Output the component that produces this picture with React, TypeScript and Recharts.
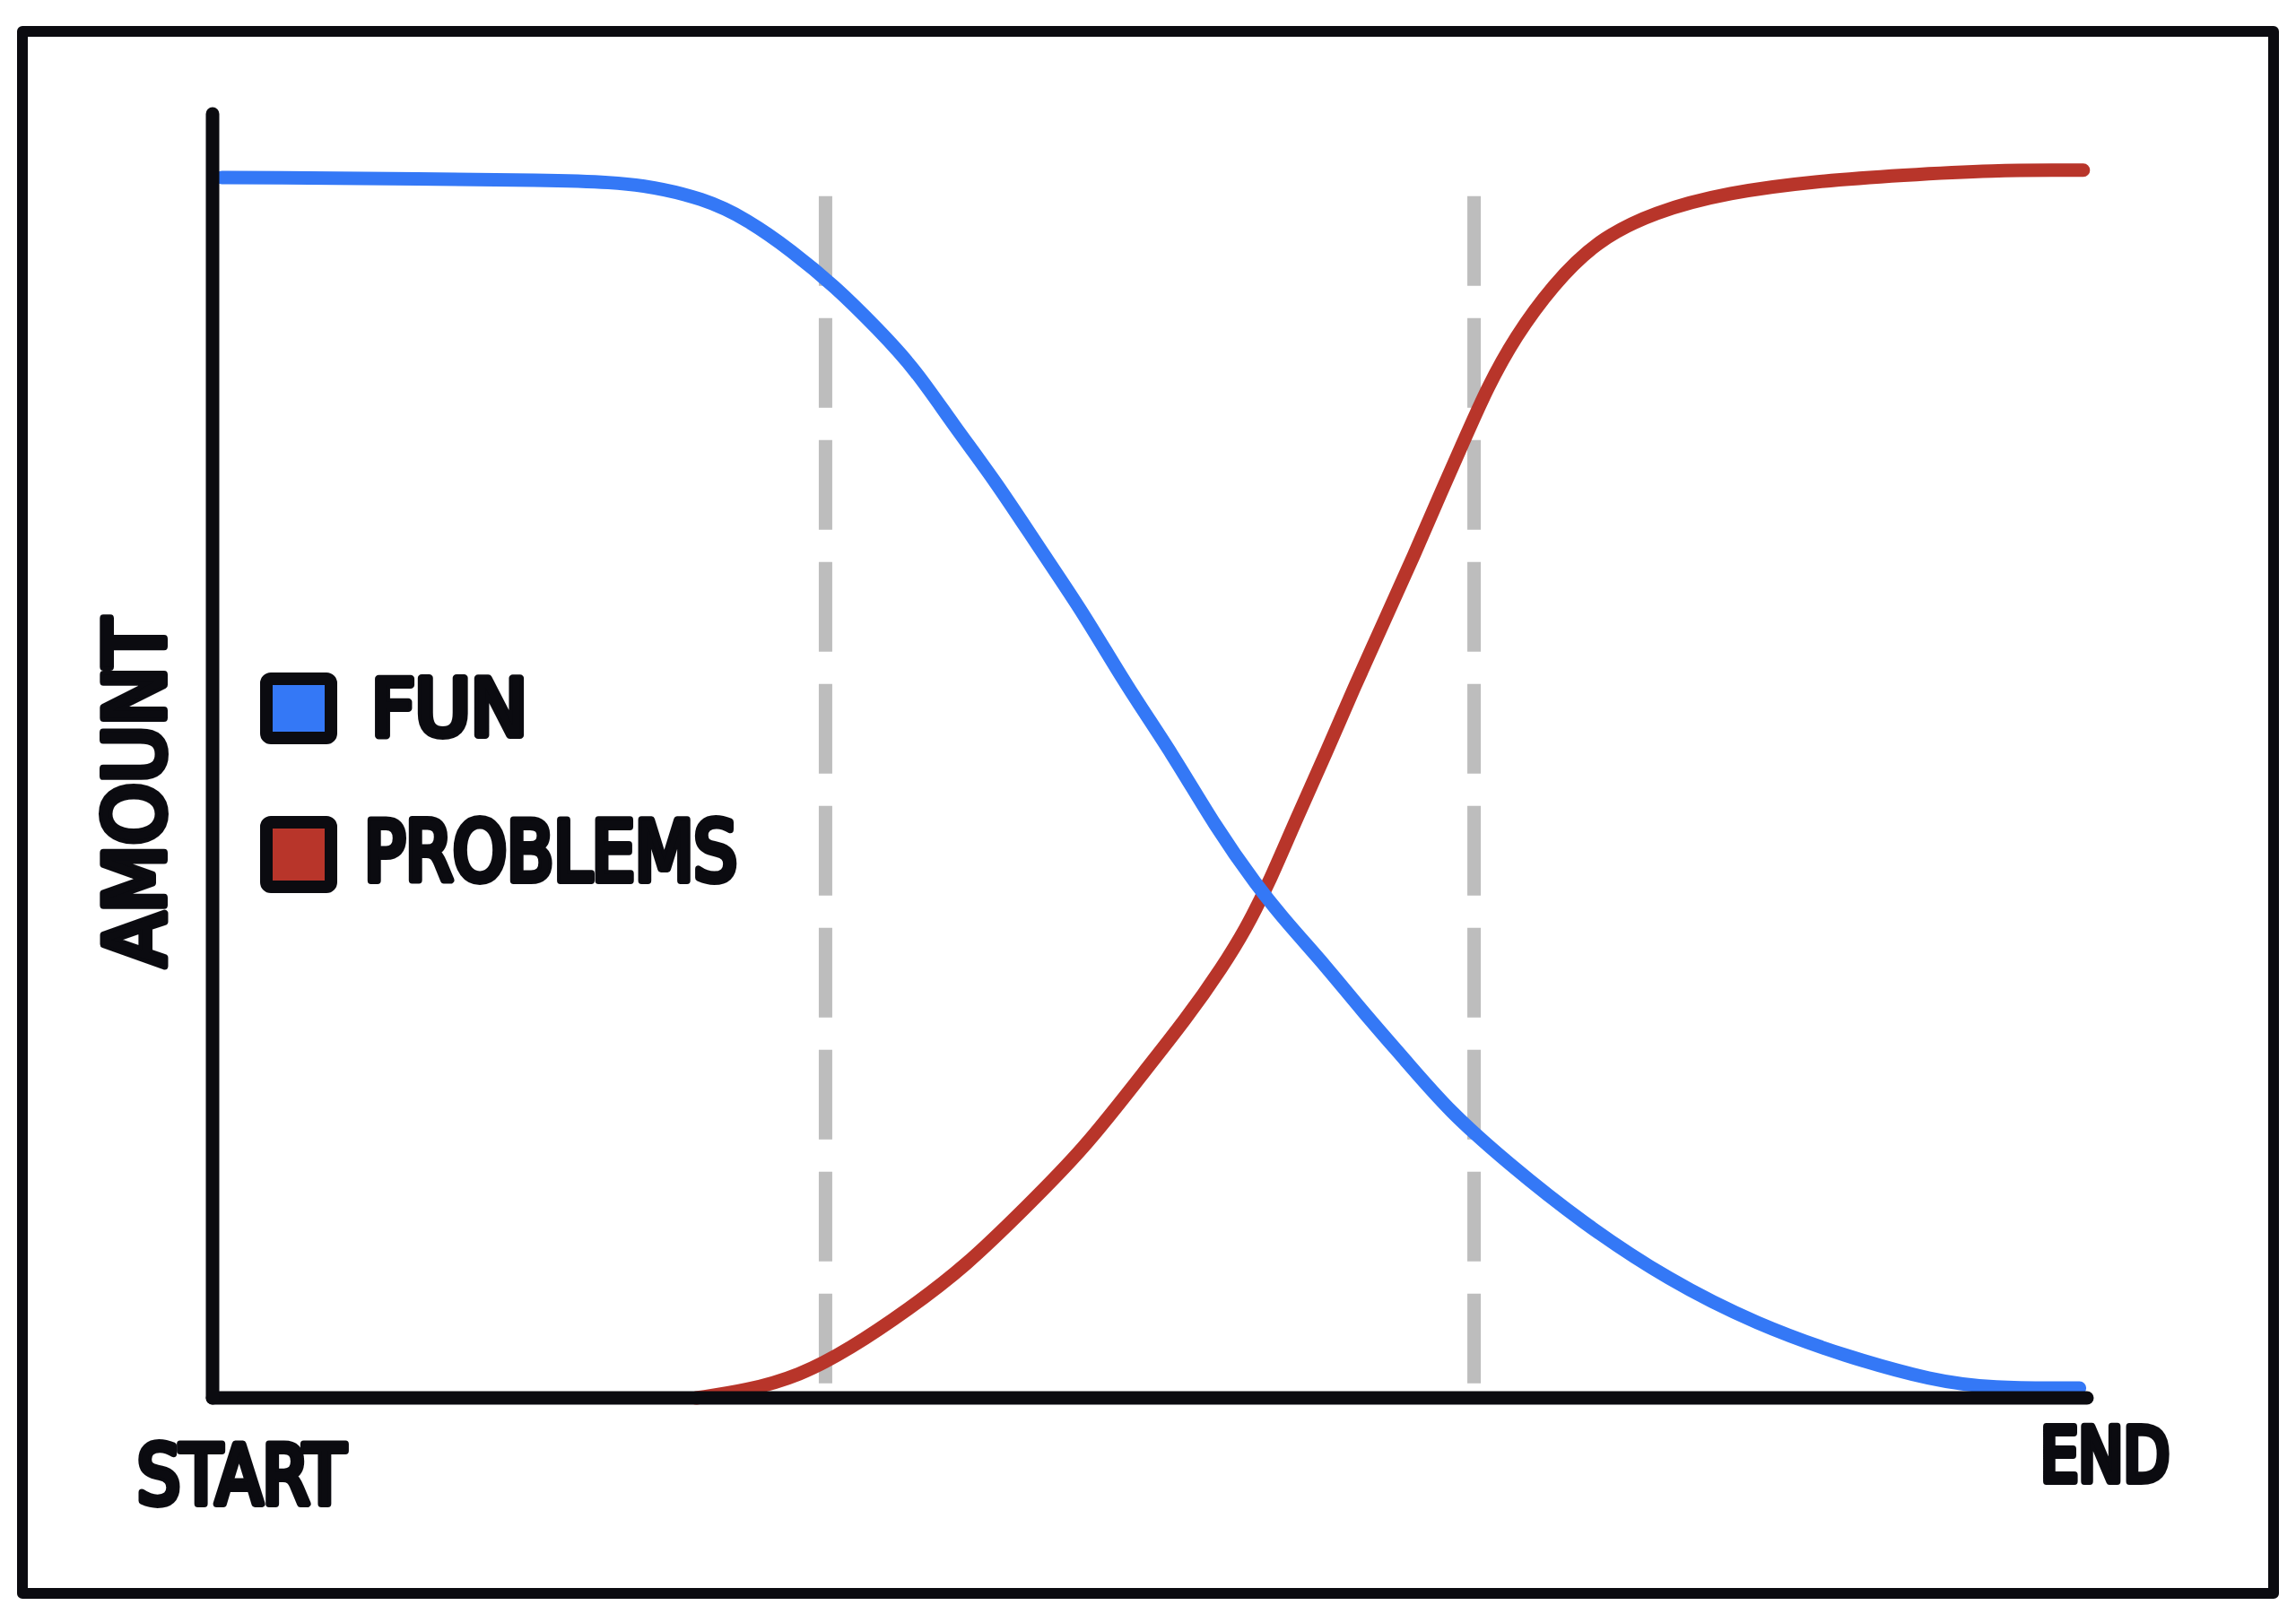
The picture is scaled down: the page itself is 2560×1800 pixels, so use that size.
import { LineChart, Line, XAxis, YAxis, ReferenceLine, Legend, Customized } from 'recharts';

// x: 0 = start, 100 = end; y: 0..105
const funX = [0.5, 19.9, 23.0, 26.2, 28.5, 30.9, 33.2, 35.5, 37.5, 39.5, 41.8, 44.1, 46.5, 48.8, 51.2, 53.5, 55.7, 57.4, 59.4, 61.3, 63.7, 66.0, 69.1, 73.0, 77.7, 82.4, 87.1, 91.8, 94.9, 99.6];
const funY = [99.8, 99.6, 99.2, 98.1, 96.4, 93.8, 90.9, 87.4, 84.1, 79.6, 74.9, 69.5, 64.1, 58.1, 52.7, 46.7, 41.9, 38.7, 35.3, 31.7, 27.5, 23.4, 19.2, 14.4, 9.6, 6.0, 3.4, 1.4, 0.8, 0.8];

const problemsX = [25.8, 28.5, 31.3, 34.0, 37.1, 40.2, 43.4, 46.5, 49.2, 52.0, 53.9, 55.1, 56.3, 57.8, 59.4, 60.9, 62.5, 64.1, 65.6, 66.8, 68.0, 69.5, 71.5, 73.8, 76.9, 80.9, 85.5, 90.2, 94.9, 99.8];
const problemsY = [0, 0.6, 1.8, 4.0, 7.2, 10.8, 15.6, 20.4, 25.7, 31.1, 35.3, 38.3, 41.9, 47.3, 52.7, 58.1, 63.5, 68.9, 74.3, 78.4, 82.6, 86.8, 91.0, 94.6, 97.0, 98.6, 99.5, 100.0, 100.4, 100.4];

const phaseMarks = [32.7, 67.3];
const tickLabels: Record<number, string> = { 0: 'START', 100: 'END' };

const funData = funX.map((x, i) => ({ x, fun: funY[i] }));
const problemsData = problemsX.map((x, i) => ({ x, problems: problemsY[i] }));

const INK = '#0b0b10';
const BLUE = '#3478f6';
const RED = '#b8352a';
const GREY = '#bdbdbd';
const FONT = '"DejaVu Sans Condensed", "DejaVu Sans", sans-serif';

// regular weight + fat round stroke gives a marker-pen look
const marker = {
  fontFamily: FONT,
  fontWeight: 400,
  fontStretch: 'condensed',
  fill: INK,
  stroke: INK,
  strokeWidth: 8,
  strokeLinejoin: 'round' as const,
  strokeLinecap: 'round' as const,
  paintOrder: 'stroke',
};

const EdgeTick = (props: any) => {
  const { x, y, payload } = props;
  const label = tickLabels[payload.value];
  if (label === 'START') {
    return (
      <text x={x - 84} y={y + 118} fontSize={90} textLength={232} lengthAdjust="spacingAndGlyphs" {...marker}>
        {label}
      </text>
    );
  }
  return (
    <text x={x - 52} y={y + 93} fontSize={84} textLength={144} lengthAdjust="spacingAndGlyphs" {...marker}>
      {label}
    </text>
  );
};

const SketchLegend = (props: any) => {
  const items = props.payload || [];
  const rows = [
    { top: 17, h: 66, base: 80, len: 174, size: 88, tx: 134 },
    { top: 177, h: 72, base: 242, len: 416, size: 92, tx: 126 },
  ];
  return (
    <svg width={700} height={280} style={{ overflow: 'visible' }}>
      {items.map((item: any, i: number) => {
        const r = rows[i];
        return (
          <g key={item.value}>
            <rect x={17} y={r.top} width={72} height={r.h} rx={5} fill={item.color} stroke={INK} strokeWidth={14} strokeLinejoin="round" />
            <text x={r.tx} y={r.base} fontSize={r.size} textLength={r.len} lengthAdjust="spacingAndGlyphs" {...marker}>
              {String(item.value).toUpperCase()}
            </text>
          </g>
        );
      })}
    </svg>
  );
};

const Frame = () => (
  <g>
    <rect x={25} y={35} width={2510} height={1742} fill="none" stroke={INK} strokeWidth={12} strokeLinejoin="round" />
    <text
      x={151}
      y={884 + 32}
      fontSize={92}
      textAnchor="middle"
      textLength={388}
      lengthAdjust="spacingAndGlyphs"
      transform="rotate(-90 151 884)"
      {...marker}
    >
      AMOUNT
    </text>
  </g>
);

export default function App() {
  return (
    <div style={{ position: 'absolute', left: 0, top: 0, background: '#fff' }}>
      <LineChart width={2560} height={1800} margin={{ top: 127, right: 233, bottom: 240, left: 236 }}>
        <Customized component={Frame} />
        <XAxis
          type="number"
          dataKey="x"
          domain={[0, 100]}
          ticks={[0, 100]}
          interval={0}
          height={1}
          tickSize={0}
          tickMargin={0}
          tickLine={false}
          tick={<EdgeTick />}
          axisLine={{ stroke: INK, strokeWidth: 15, strokeLinecap: 'round' }}
        />
        <YAxis
          type="number"
          domain={[0, 105]}
          width={1}
          tick={false}
          tickLine={false}
          axisLine={{ stroke: INK, strokeWidth: 15, strokeLinecap: 'round' }}
        />
        {phaseMarks.map((m) => (
          <ReferenceLine
            key={m}
            segment={[{ x: m, y: 1.2 }, { x: m, y: 99.3 }]}
            stroke={GREY}
            strokeWidth={15}
            strokeDasharray="100 36"
          />
        ))}
        <Line data={problemsData} dataKey="problems" name="Problems" type="basis" stroke={RED} strokeWidth={15} strokeLinecap="round" dot={false} isAnimationActive={false} />
        <Line data={funData} dataKey="fun" name="Fun" type="basis" stroke={BLUE} strokeWidth={15} strokeLinecap="round" dot={false} isAnimationActive={false} />
        <Legend
          layout="vertical"
          align="center"
          verticalAlign="middle"
          content={<SketchLegend />}
          wrapperStyle={{ position: 'absolute', left: 280, top: 740, width: 700, height: 280 }}
        />
      </LineChart>
    </div>
  );
}
